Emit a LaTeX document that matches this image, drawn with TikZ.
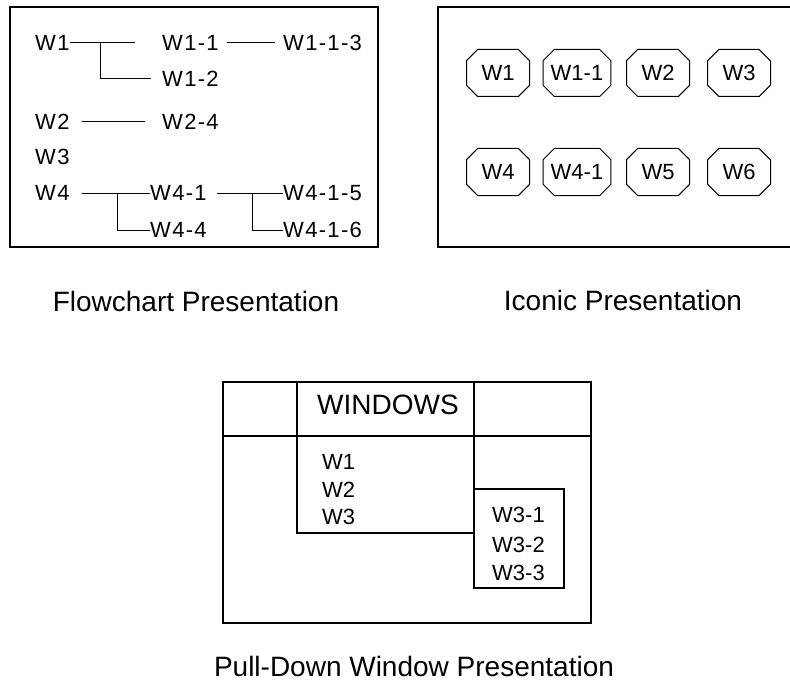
\documentclass[tikz,border=0pt]{standalone}
\usepackage{fontspec}
\setmainfont{Liberation Sans}
\newfontfamily\wfont[LetterSpace=6]{Liberation Sans}
\usetikzlibrary{positioning}
\usetikzlibrary{shapes.misc}
\tikzstyle{wtx}=[anchor=west, inner sep=0pt, font=\wfont\fontsize{22}{26}\selectfont]
\tikzstyle{wic}=[draw, shape=chamfered rectangle, chamfered rectangle xsep=11pt, minimum width=63pt, minimum height=47pt, inner sep=0pt, line width=1pt, font=\fontsize{22}{26}\selectfont]
\tikzstyle{wmn}=[anchor=west, inner sep=0pt, font=\fontsize{22}{26}\selectfont]
\tikzstyle{wcap}=[inner sep=0pt, font=\fontsize{28}{32}\selectfont]
\tikzstyle{wline}=[line width=1pt, color=black]
\tikzstyle{wbox}=[line width=1.2pt, color=black]
\def\wtx{\node[style=wtx]}
\def\wic{\node[style=wic]}
\def\wmn{\node[style=wmn]}
\def\wcap{\node[style=wcap]}
\def\wline{\draw[style=wline]}
\def\wbox{\draw[style=wbox]}
\begin{document}
\begin{tikzpicture}[x=1pt, y=-1pt]
      \useasboundingbox (0,0) rectangle (790,682);
      % flowchart
      \wbox (10,7) rectangle (378,247);
      \wtx (W1)   at (35,43)   {W1};
      \wtx (W11)  at (162,43)  {W1-1};
      \wtx (W113) at (283,43)  {W1-1-3};
      \wtx (W12)  at (162,79)  {W1-2};
      \wtx (W2)   at (35,122)  {W2};
      \wtx (W24)  at (162,122) {W2-4};
      \wtx (W3)   at (35,157)  {W3};
      \wtx (W4)   at (35,193)  {W4};
      \wtx (W41)  at (150,193) {W4-1};
      \wtx (W415) at (283,193) {W4-1-5};
      \wtx (W44)  at (150,230) {W4-4};
      \wtx (W416) at (283,230) {W4-1-6};

      \coordinate (W1end) at (135,43);
      \coordinate (W1fork) at (100,43);
      \coordinate (W2end) at (145,122);
      \coordinate (W4fork) at (117,193);
      \coordinate (W41fork) at (252,193);

      \wline (W1.east) -- (W1end);
      \wline (W1fork) |- ([xshift=-11pt]W12.west);
      \wline ([xshift=8pt]W11.east) -- ([xshift=-8pt]W113.west);
      \wline ([xshift=12pt]W2.east) -- (W2end);
      \wline ([xshift=12pt]W4.east) -- (W41.west);
      \wline (W4fork) |- (W44.west);
      \wline ([xshift=10pt]W41.east) -- (W415.west);
      \wline (W41fork) |- (W416.west);
      % iconic
      \wbox (790,7) -- (438,7) -- (438,247) -- (790,247);
      \wic (iW1)  at (498,73)  {W1};
      \wic (iW11) at (577,73)  {W1-1};
      \wic (iW2)  at (658,73)  {W2};
      \wic (iW3)  at (739,73)  {W3};
      \wic (iW4)  at (498,172) {W4};
      \wic (iW41) at (577,172) {W4-1};
      \wic (iW5)  at (658,172) {W5};
      \wic (iW6)  at (739,172) {W6};
      % pull-down
      \wbox (223,382) rectangle (591,623);
      \wbox (223,436) -- (591,436);
      \wbox (297,382) -- (297,533) -- (474,533);
      \wbox (474,382) -- (474,489);
      \wbox (474,489) rectangle (564,588);
      \node[inner sep=0pt, font=\fontsize{28}{32}\selectfont] (pWin) at (388,405) {WINDOWS};
      \wmn (pW1)  at (322,462) {W1};
      \wmn (pW2)  at (322,490) {W2};
      \wmn (pW3)  at (322,517) {W3};
      \wmn (pW31) at (492,515) {W3-1};
      \wmn (pW32) at (492,545) {W3-2};
      \wmn (pW33) at (492,573) {W3-3};
      % captions
      \wcap (cFlow) at (196,301) {Flowchart Presentation};
      \wcap (cIcon) at (623,300) {Iconic Presentation};
      \wcap (cPull) at (414,666) {Pull-Down Window Presentation};
\end{tikzpicture}
\end{document}
